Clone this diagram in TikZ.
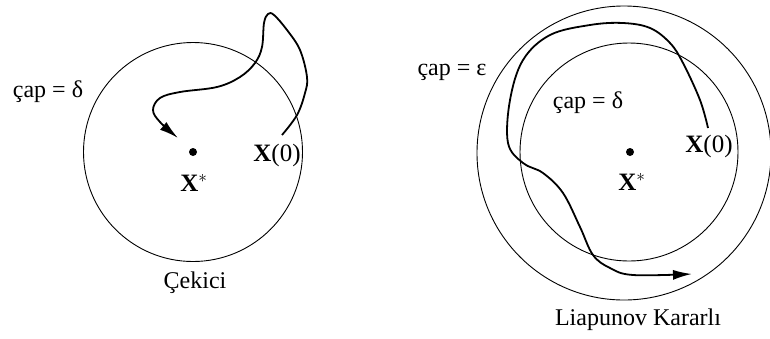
\documentclass[tikz,border=0pt]{standalone}
\usepackage{fontspec}
\setmainfont{Liberation Serif}
\usetikzlibrary{arrows.meta}
\begin{document}
\begin{tikzpicture}[x=1pt,y=-1pt,
  ring/.style={draw, line width=0.9pt},
  traj/.style={line width=1.8pt, -{Latex[length=19pt,width=10pt]}},
  lbl/.style={inner sep=0pt, font=\fontsize{24}{28}\selectfont},
  xlbl/.style={inner sep=0pt, font=\fontsize{25}{28}\selectfont},
  fixpt/.style={circle, fill, inner sep=0pt, minimum size=8pt}]
\useasboundingbox (0,0) rectangle (770,338);
% left diagram
\draw[ring] (193,152) circle[radius=109.5pt];
\node[fixpt] (sA) at (193,152) {};
\node[xlbl] (xsA) at (194,183) {\textbf{X}$^{*}$};
\node[xlbl] (x0A) at (277,155) {\textbf{X}(0)};
\node[lbl] (dA) at (48,92) {çap = δ};
\node[lbl] (cek) at (195,283) {Çekici};
\coordinate (startA) at (282,135);
\coordinate (endA) at (178,138);
\draw[traj] plot[smooth, tension=0.6] coordinates {(startA) (297,115) (305,93) (307,77) (300,50) (287,30) (274,15) (268,14) (264,23) (262,47) (255,63) (240,77) (217,87) (180,92) (160,98) (153,110) (160,122) (endA)};
% right diagram
\draw[ring] (624,153) circle[radius=147pt];
\draw[ring] (629,152) circle[radius=109pt];
\node[fixpt] (sB) at (630,152) {};
\node[xlbl] (xsB) at (632,182) {\textbf{X}$^{*}$};
\node[xlbl] (x0B) at (709,146) {\textbf{X}(0)};
\node[lbl] (eB) at (452,72) {çap = ε};
\node[lbl] (dB) at (588,103) {çap = δ};
\node[lbl] (lk) at (638,320) {Liapunov Kararlı};
\coordinate (startB) at (708,128);
\coordinate (endB) at (692,274);
\draw[traj] plot[smooth, tension=0.6] coordinates {(startB) (700,100) (683,63) (670,43) (650,28) (623,23) (590,25) (550,35) (523,60) (510,100) (508,143) (523,163) (543,173) (563,193) (580,227) (593,255) (610,268) (633,275) (endB)};
\end{tikzpicture}
\end{document}
